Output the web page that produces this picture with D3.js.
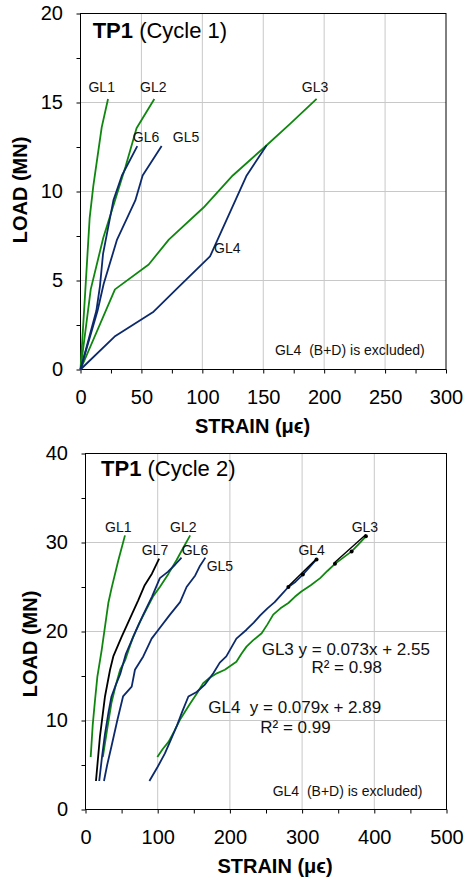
<!DOCTYPE html>
<html>
<head>
<meta charset="utf-8">
<title>TP1 load-strain</title>
<script src="https://d3js.org/d3.v7.min.js"></script>
<style>
  body { margin: 0; background: #fff; }
  svg { display: block; font-family: "Liberation Sans", Arial, sans-serif; }
  .grid line { stroke: #c8c8c8; stroke-width: 1; }
  .tick line { stroke: #000; }
  .tick text { font-size: 20px; fill: #000; }
  .lbl { font-size: 14px; fill: #111; }
  text { white-space: pre; }
</style>
</head>
<body>
<svg id="chart" width="467" height="881"></svg>
<script>
// ---------- Cycle 1 data [strain (με), load (MN)] ----------
const c1GL1 = [[0,0],[4,4.5],[7.5,8.5],[10.5,10.3],[17.4,13.6],[22.6,15.2]];
const c1GL2 = [[0,0],[8.4,4.5],[18.7,7.4],[28.3,9.5],[37,11.4],[46,13.55],[60.6,15.2]];
const c1GL3 = [[0,0],[28.3,4.5],[56,5.9],[72.5,7.3],[101,9.1],[125,10.9],[152.8,12.6],[172,13.8],[193.8,15.2]];
const c1GL4 = [[0,0],[28,1.85],[60,3.25],[80,4.6],[106.3,6.35],[136.4,10.9],[152.8,12.6]];
const c1GL5 = [[0,0],[14,3.3],[19,4.8],[30,7.3],[45,9.5],[51,10.9],[66.6,12.55]];
const c1GL6 = [[0,0],[13,3.3],[16,4.7],[18.5,6.5],[27,9.5],[34,10.9],[46.6,12.55]];

// ---------- Cycle 2 data ----------
const c2GL1 = [[7.2,5.9],[10,9.5],[13.2,12.3],[16.4,14.9],[22.4,17.9],[31.6,23.2],[36.2,24.9],[45.5,28],[54.7,30.8]];
const c2GL2 = [[24,5.9],[30,9],[36,12],[42,14],[48,15.7],[55,16.8],[60,18],[66,19.4],[75,21],[85,22.6],[94,24],[103,25],[115,26.5],[126,28],[136,29.5],[145,30.8]];
const c2GL3 = [[99.5,5.9],[107,6.8],[115,7.6],[123,8.8],[131,10.1],[138,11],[145,11.9],[154,13],[163,14.2],[172,14.8],[182,15.3],[193,15.7],[209,16.6],[216,17.5],[223,18.3],[232,19],[244,19.8],[252,20.8],[260,21.9],[270,22.6],[281,23.2],[290,23.9],[299,24.5],[312,25.2],[325,26],[335,26.8],[345.5,27.6],[357,28.3],[368.6,29],[378,29.8],[388.4,30.7]];
const c2GL4 = [[88.5,3.2],[100,4.8],[110,6.3],[118,7.8],[126,9.3],[134,11],[142.5,12.7],[154,13.2],[165,14],[177,15.3],[186,16.5],[195,17.2],[209,19.2],[223,20.2],[233,21],[242,21.8],[252,22.6],[262,23.3],[272,24.2],[281,25],[291,25.6],[301,26.4],[311,27.3],[320,28.1]];
const c2GL5 = [[25.6,3.2],[30,5],[36,7.1],[44,10],[52,12.7],[64,13.8],[68.5,15.7],[80,17.2],[91.6,19.2],[101,20.2],[117,21.9],[131,23.3],[140,25],[152,26.3],[158,27.3],[166,28.3]];
const c2GL6 = [[19,3.2],[23,6],[27,8.5],[32,11],[36,12.7],[42,14],[48,15.2],[56,17.5],[64,19],[72,20.5],[80,21.9],[92,23.9],[103,26],[114,26.7],[124,27.5],[133,28.3]];
const c2GL7 = [[14.5,3.2],[20,8.2],[27,12.7],[34,15.7],[38.5,17.2],[50,19.4],[64,21.9],[73,23.5],[82,25.2],[92,26.5],[102,28.2]];

// linear fits (cycle 2), points used for the fit
const fitGL3 = { a: 0.073, b: 2.55, pts: [[345.5,27.6],[368.6,29],[388.4,30.7]] };
const fitGL4 = { a: 0.079, b: 2.89, pts: [[281,25],[301,26.4],[320,28.1]] };

const green = "#0f870f", navy = "#0c2a6b", black = "#000";

const panels = [
  {
    left: 80.5, right: 446, top: 13.5, bottom: 369.5,
    xMax: 300, xStep: 50, yMax: 20, yStep: 5,
    cycle: "(Cycle 1)", titleAt: [10, 18.65],
    yTitle: { x: 27, y: 190 }, xTitle: { x: 252.5, y: 433 },
    series: [
      { d: c1GL1, c: green }, { d: c1GL2, c: green }, { d: c1GL3, c: green },
      { d: c1GL4, c: navy }, { d: c1GL5, c: navy }, { d: c1GL6, c: navy }
    ],
    labels: [
      ["GL1", 17.4, 15.57], ["GL2", 59.8, 15.57], ["GL3", 192.5, 15.57],
      ["GL6", 53.8, 12.76], ["GL5", 86.6, 12.76], ["GL4", 120.5, 6.56]
    ],
    notes: [{ t: "GL4  (B+D) is excluded)", x: 159.6, y: 0.81, size: 14, anchor: "start" }],
    fits: []
  },
  {
    left: 85.5, right: 446.5, top: 453.5, bottom: 809.5,
    xMax: 500, xStep: 100, yMax: 40, yStep: 10,
    cycle: "(Cycle 2)", titleAt: [21.5, 37.45],
    yTitle: { x: 36.7, y: 644 }, xTitle: { x: 275, y: 873 },
    series: [
      { d: c2GL1, c: green }, { d: c2GL2, c: green }, { d: c2GL3, c: green },
      { d: c2GL4, c: navy }, { d: c2GL5, c: navy }, { d: c2GL6, c: navy },
      { d: c2GL7, c: black }
    ],
    labels: [
      ["GL1", 45.4, 31.2], ["GL2", 135.4, 31.2], ["GL3", 387, 31.2],
      ["GL7", 96.2, 28.6], ["GL6", 151.6, 28.6], ["GL4", 313.2, 28.6], ["GL5", 186.2, 26.8]
    ],
    notes: [
      { t: "GL4  (B+D) is excluded)", x: 259.2, y: 1.55, size: 14, anchor: "start" },
      { t: "GL3 y = 0.073x + 2.55", x: 244, y: 17.36, size: 17, anchor: "start" },
      { t: "R² = 0.98", x: 361.7, y: 15.3, size: 17, anchor: "middle" },
      { t: "GL4  y = 0.079x + 2.89", x: 170, y: 10.84, size: 17, anchor: "start" },
      { t: "R² = 0.99", x: 290.8, y: 8.6, size: 17, anchor: "middle" }
    ],
    fits: [fitGL3, fitGL4]
  }
];

const svg = d3.select("#chart");
svg.append("rect").attr("width", 467).attr("height", 881).attr("fill", "#fff");

panels.forEach(p => {
  const x = d3.scaleLinear().domain([0, p.xMax]).range([p.left, p.right]);
  const y = d3.scaleLinear().domain([0, p.yMax]).range([p.bottom, p.top]);
  const g = svg.append("g");

  const xMajor = d3.range(0, p.xMax + 1, p.xStep);
  const yMajor = d3.range(0, p.yMax + 1, p.yStep);
  const xMinor = d3.range(p.xStep / 2, p.xMax, p.xStep);
  const yMinor = d3.range(p.yStep / 2, p.yMax, p.yStep);

  // gridlines
  const grid = g.append("g").attr("class", "grid");
  grid.selectAll(".vx").data(xMajor.slice(1, -1)).join("line")
    .attr("x1", d => x(d)).attr("x2", d => x(d))
    .attr("y1", p.top).attr("y2", p.bottom);
  grid.selectAll(".hy").data(yMajor.slice(1, -1)).join("line")
    .attr("y1", d => y(d)).attr("y2", d => y(d))
    .attr("x1", p.left).attr("x2", p.right);

  // axes
  g.append("g").attr("transform", `translate(0,${p.bottom})`)
    .call(d3.axisBottom(x).tickValues(xMajor).tickSize(4).tickPadding(16.3).tickSizeOuter(0))
    .call(a => a.select(".domain").remove());
  g.append("g").attr("transform", `translate(0,${p.bottom})`)
    .call(d3.axisBottom(x).tickValues(xMinor).tickSize(4).tickFormat(""))
    .call(a => a.select(".domain").remove());
  g.append("g").attr("transform", `translate(${p.left},0)`)
    .call(d3.axisLeft(y).tickValues(yMajor).tickSize(4).tickPadding(13.5).tickSizeOuter(0))
    .call(a => a.select(".domain").remove());
  g.append("g").attr("transform", `translate(${p.left},0)`)
    .call(d3.axisLeft(y).tickValues(yMinor).tickSize(4).tickFormat(""))
    .call(a => a.select(".domain").remove());
  g.selectAll(".tick text").attr("font-family", null);

  // frame
  g.append("rect")
    .attr("x", p.left).attr("y", p.top)
    .attr("width", p.right - p.left).attr("height", p.bottom - p.top)
    .attr("fill", "none").attr("stroke", "#000").attr("stroke-width", 1);

  // series
  const line = d3.line().x(d => x(d[0])).y(d => y(d[1]));
  g.selectAll(".series").data(p.series).join("path")
    .attr("d", s => line(s.d))
    .attr("fill", "none")
    .attr("stroke", s => s.c)
    .attr("stroke-width", 1.8)
    .attr("stroke-linejoin", "round");

  // fits
  p.fits.forEach(f => {
    const xs = d3.extent(f.pts, d => d[0]);
    g.append("path")
      .attr("d", line(xs.map(v => [v, f.a * v + f.b])))
      .attr("stroke", "#000").attr("stroke-width", 1.4).attr("fill", "none");
    g.selectAll(null).data(f.pts).join("circle")
      .attr("cx", d => x(d[0])).attr("cy", d => y(d[1])).attr("r", 2)
      .attr("fill", "#000");
  });

  // labels
  g.selectAll(".lbl").data(p.labels).join("text")
    .attr("class", "lbl")
    .attr("x", d => x(d[1])).attr("y", d => y(d[2]))
    .attr("text-anchor", "middle")
    .text(d => d[0]);

  p.notes.forEach(n => {
    g.append("text")
      .attr("x", x(n.x)).attr("y", y(n.y))
      .attr("text-anchor", n.anchor)
      .attr("font-size", n.size)
      .attr("fill", "#111")
      .text(n.t);
  });

  // title
  const t = g.append("text")
    .attr("x", x(p.titleAt[0])).attr("y", y(p.titleAt[1]))
    .attr("font-size", 22);
  t.append("tspan").attr("font-weight", "bold").text("TP1");
  t.append("tspan").text(" " + p.cycle);

  // axis titles
  g.append("text")
    .attr("transform", `translate(${p.yTitle.x},${p.yTitle.y}) rotate(-90)`)
    .attr("text-anchor", "middle")
    .attr("font-size", 20).attr("font-weight", "bold")
    .text("LOAD (MN)");
  g.append("text")
    .attr("x", p.xTitle.x).attr("y", p.xTitle.y)
    .attr("text-anchor", "middle")
    .attr("font-size", 20).attr("font-weight", "bold")
    .text("STRAIN (μϵ)");
});
</script>
</body>
</html>
